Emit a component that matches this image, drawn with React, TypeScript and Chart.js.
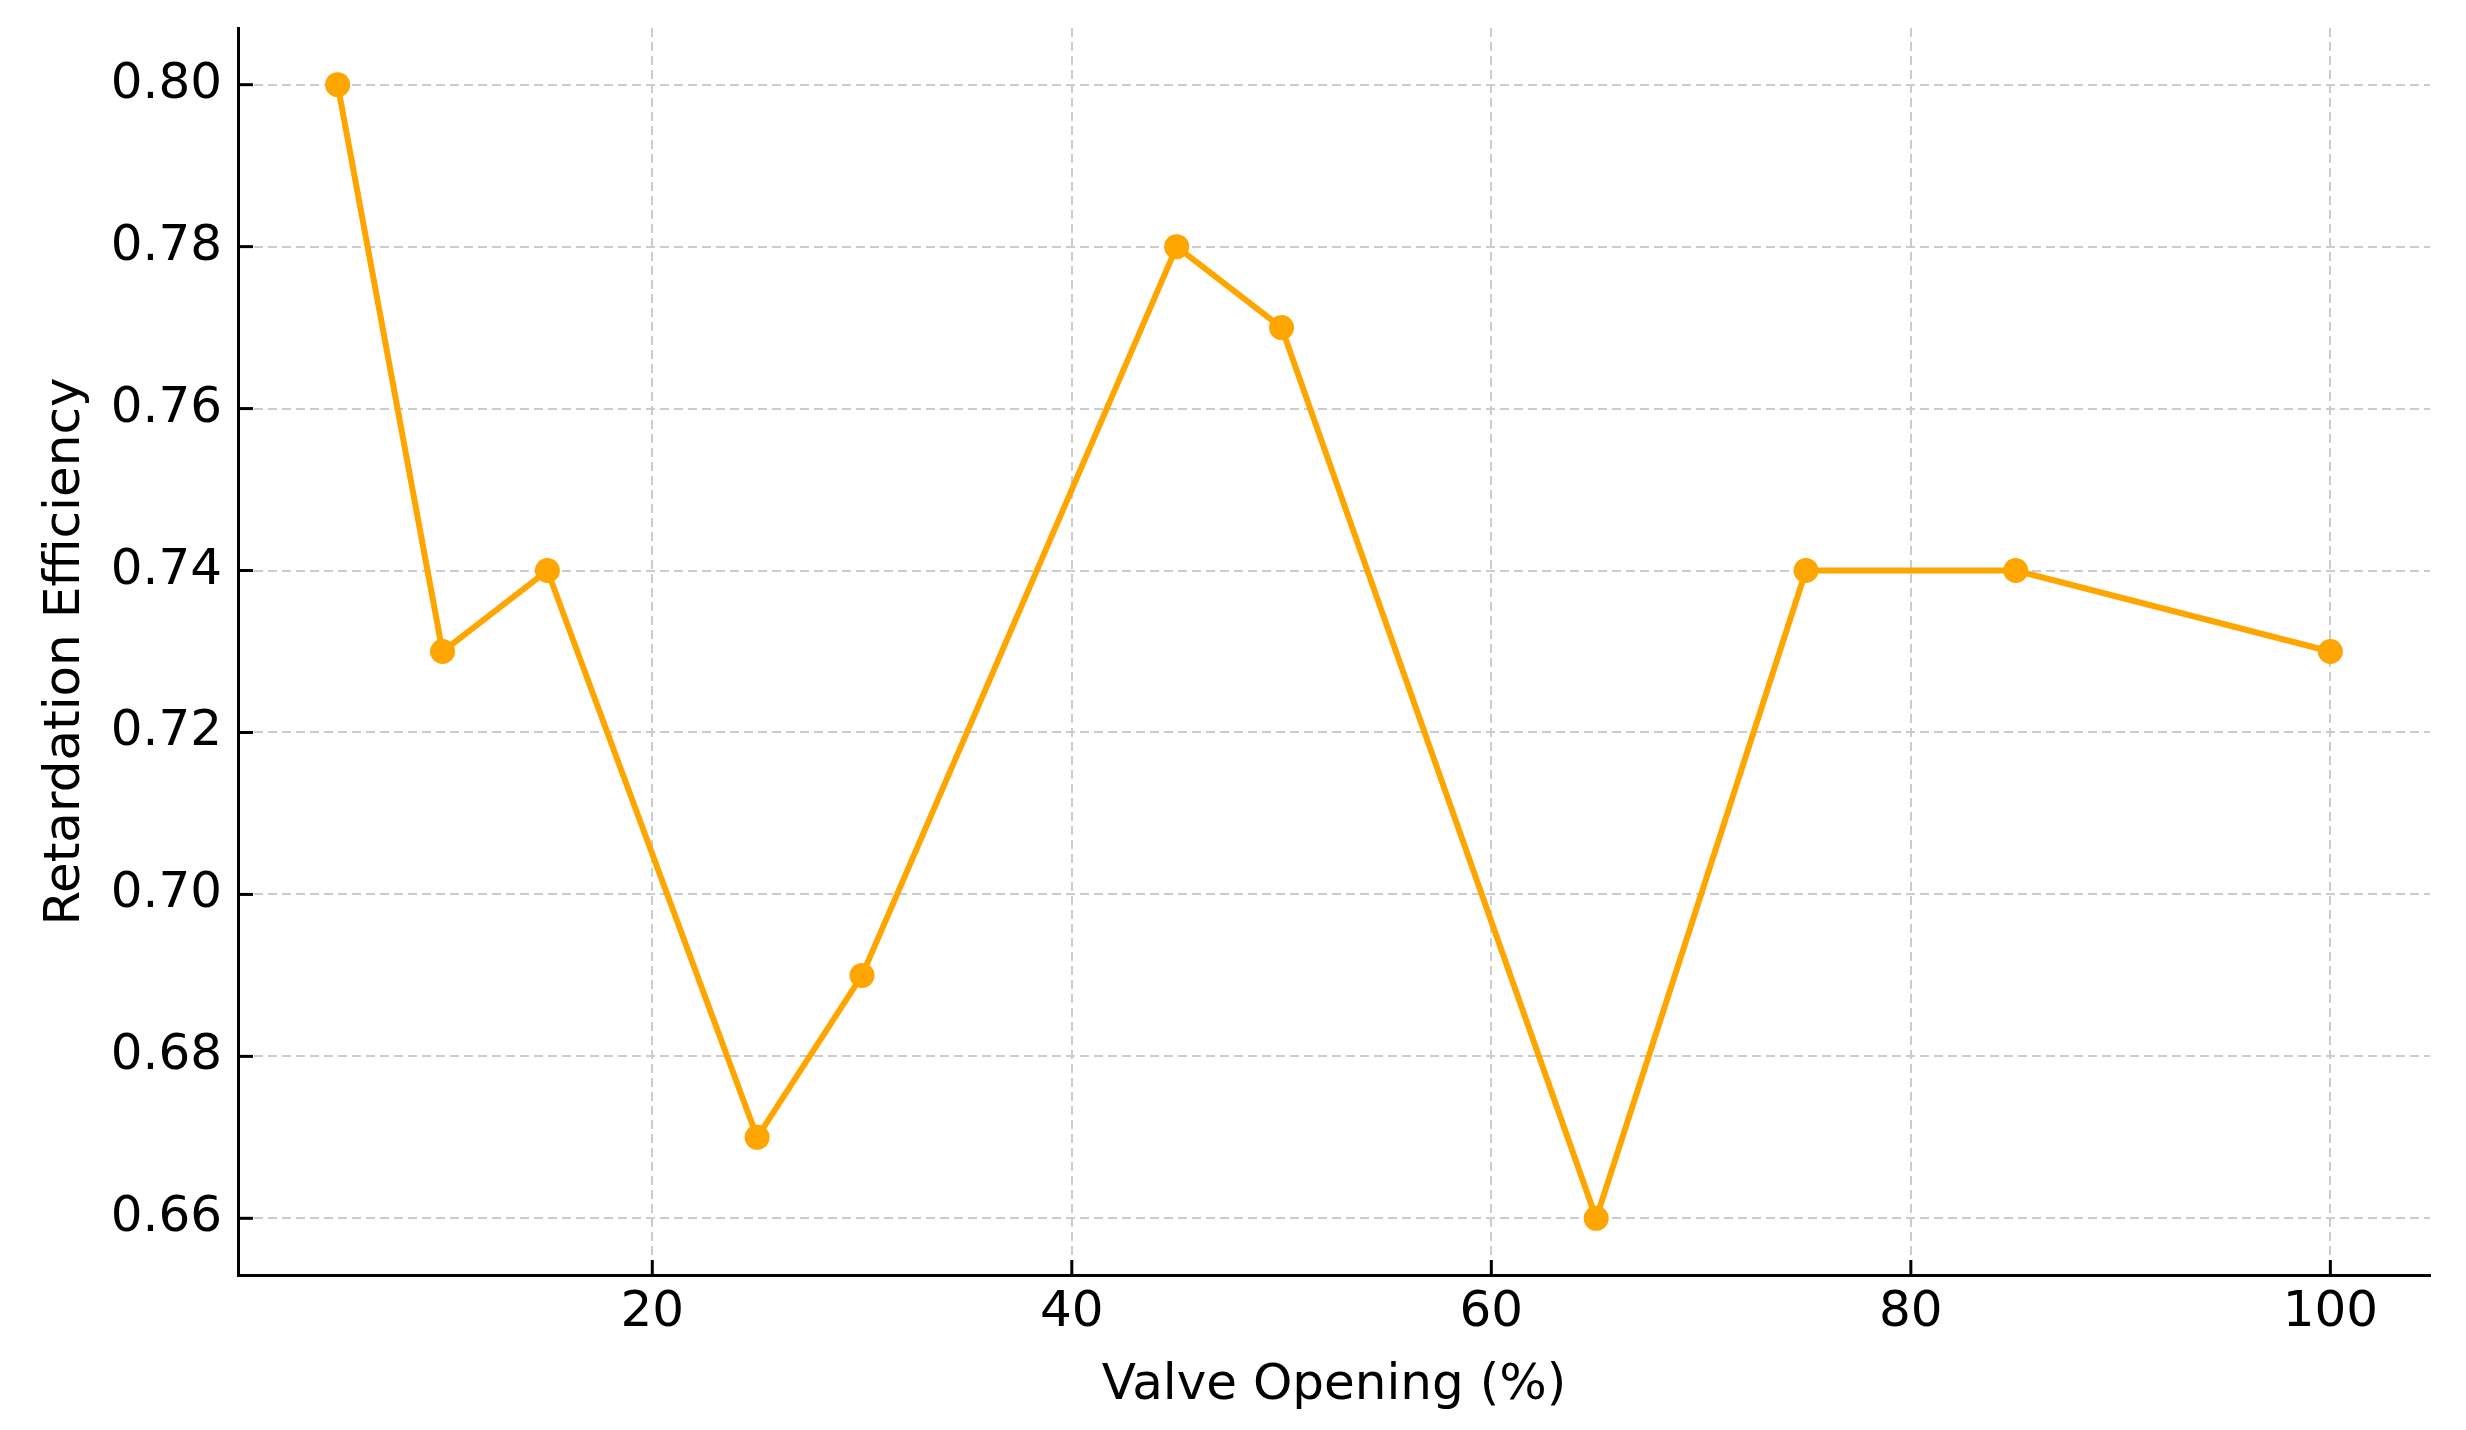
import React, { useEffect, useRef } from 'react';
import { Chart, registerables } from 'chart.js';

Chart.register(...registerables);

const valveOpening = [5, 10, 15, 25, 30, 45, 50, 65, 75, 85, 100];
const efficiency = [0.8, 0.73, 0.74, 0.67, 0.69, 0.78, 0.77, 0.66, 0.74, 0.74, 0.73];
const xTicks = [20, 40, 60, 80, 100];
const yTicks = [0.66, 0.68, 0.7, 0.72, 0.74, 0.76, 0.78, 0.8];
const xRange = [0.25, 104.75];
const yRange = [0.653, 0.807];

const FONT = "'DejaVu Sans', sans-serif";
const ORANGE = '#FFA500';

// matplotlib style ticks pointing into the plot
const innerTicks = {
    id: 'innerTicks',
    beforeDatasetsDraw(chart: Chart) {
        const { ctx, chartArea, scales } = chart;
        ctx.save();
        ctx.strokeStyle = '#000';
        ctx.lineWidth = 3;
        scales.x.ticks.forEach((t) => {
            const px = scales.x.getPixelForValue(t.value);
            ctx.beginPath();
            ctx.moveTo(px, chartArea.bottom);
            ctx.lineTo(px, chartArea.bottom - 15);
            ctx.stroke();
        });
        scales.y.ticks.forEach((t) => {
            const py = scales.y.getPixelForValue(t.value);
            ctx.beginPath();
            ctx.moveTo(chartArea.left, py);
            ctx.lineTo(chartArea.left + 15, py);
            ctx.stroke();
        });
        ctx.restore();
    }
};

const EfficiencyChart: React.FC = () => {
    const canvasRef = useRef<HTMLCanvasElement>(null);
    const chartRef = useRef<Chart | null>(null);

    useEffect(() => {
        document.body.style.margin = '0';
        const ctx = canvasRef.current?.getContext('2d');
        if (!ctx) return;

        chartRef.current = new Chart(ctx, {
            type: 'line',
            data: {
                datasets: [
                    {
                        data: valveOpening.map((x, i) => ({ x, y: efficiency[i] })),
                        borderColor: ORANGE,
                        backgroundColor: ORANGE,
                        borderWidth: 6,
                        pointRadius: 12.5,
                        pointBorderWidth: 0,
                        pointBackgroundColor: ORANGE,
                        tension: 0,
                        fill: false
                    }
                ]
            },
            options: {
                animation: false,
                responsive: true,
                maintainAspectRatio: false,
                devicePixelRatio: 1,
                layout: { padding: { top: 28, right: 36, left: 0, bottom: 0 } },
                plugins: {
                    legend: { display: false },
                    tooltip: { enabled: false }
                },
                scales: {
                    x: {
                        type: 'linear',
                        min: xRange[0],
                        max: xRange[1],
                        afterBuildTicks: (scale) => {
                            scale.ticks = xTicks.map((v) => ({ value: v }));
                        },
                        afterFit: (scale) => {
                            scale.height = 155;
                            scale.paddingLeft = 0;
                            scale.paddingRight = 0;
                        },
                        ticks: {
                            color: '#000',
                            padding: 8,
                            maxRotation: 0,
                            font: { family: FONT, size: 50 },
                            callback: (v) => String(v)
                        },
                        grid: {
                            color: '#cccccc',
                            lineWidth: 2,
                            drawTicks: false
                        },
                        border: { display: true, color: '#000', width: 3, dash: [9, 5] },
                        title: {
                            display: true,
                            text: 'Valve Opening (%)',
                            color: '#000',
                            font: { family: FONT, size: 50 },
                            padding: { top: 14, bottom: 14 }
                        }
                    },
                    y: {
                        type: 'linear',
                        min: yRange[0],
                        max: yRange[1],
                        afterBuildTicks: (scale) => {
                            scale.ticks = yTicks.map((v) => ({ value: v }));
                        },
                        afterFit: (scale) => {
                            scale.width = 238;
                            scale.paddingTop = 0;
                            scale.paddingBottom = 0;
                        },
                        ticks: {
                            color: '#000',
                            padding: 16,
                            font: { family: FONT, size: 50 },
                            callback: (v) => Number(v).toFixed(2)
                        },
                        grid: {
                            color: '#cccccc',
                            lineWidth: 2,
                            drawTicks: false
                        },
                        border: { display: true, color: '#000', width: 3, dash: [9, 5] },
                        title: {
                            display: true,
                            text: 'Retardation Efficiency',
                            color: '#000',
                            font: { family: FONT, size: 50 },
                            padding: { top: 36, bottom: 0 }
                        }
                    }
                }
            },
            plugins: [innerTicks]
        });

        return () => {
            if (chartRef.current) {
                chartRef.current.destroy();
                chartRef.current = null;
            }
        };
    }, []);

    return (
        <div style={{ width: '2466px', height: '1430px', position: 'relative' }}>
            <canvas ref={canvasRef} />
        </div>
    );
};

export default function App() {
    return <EfficiencyChart />;
}
